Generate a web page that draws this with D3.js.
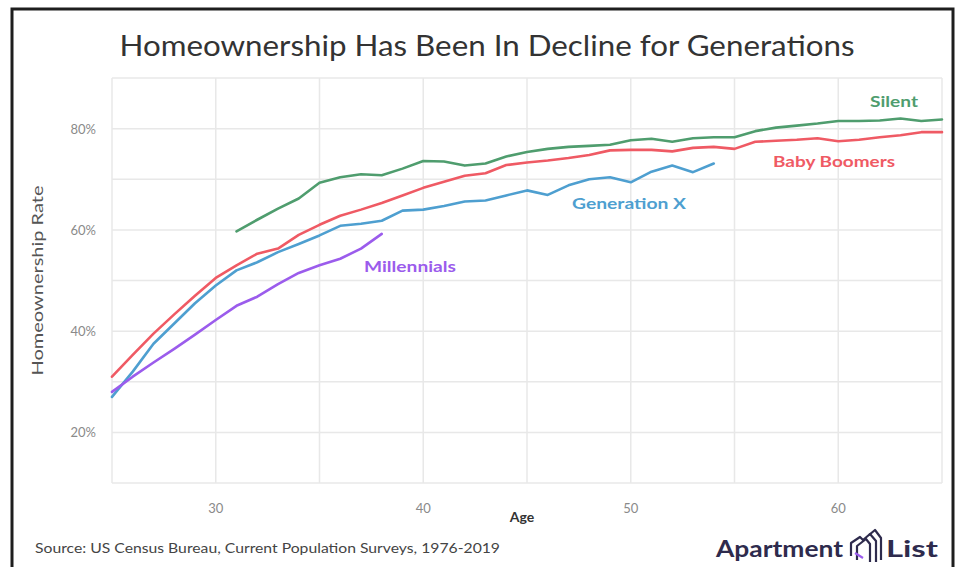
<!doctype html>
<html lang="en">
	<head>
		<meta charset="UTF-8">
		<title>Homeownership Has Been In Decline for Generations</title>
		<style>
		body { margin: 0; background: #fff; }
		svg { display: block; font-family: Lato, "Open Sans", sans-serif; }
		.grid line { stroke: #e8e8e8; stroke-width: 1.5px; }
		.tick-label { fill: #8a8a8a; font-size: 13px; }
		.series { fill: none; stroke-width: 2.6px; stroke-linejoin: round; stroke-linecap: round; }
		.series-label { font-size: 15px; font-weight: 700; }
		</style>
	</head>
	<body>
		<script src="https://cdn.jsdelivr.net/npm/d3@7"></script>
		<script>
			// values, % by age
			var silentStart = 31,
				silentValues = [59.7, 62.0, 64.2, 66.2, 69.3, 70.4, 71.0, 70.8, 72.1, 73.6,
					73.5, 72.7, 73.1, 74.5, 75.4, 76.0, 76.4, 76.6, 76.8, 77.7,
					78.0, 77.4, 78.1, 78.3, 78.3, 79.5, 80.2, 80.6, 81.0, 81.5,
					81.5, 81.6, 82.0, 81.5, 81.8];

			var boomerStart = 25,
				boomerValues = [31.0, 35.3, 39.5, 43.3, 47.0, 50.5, 53.0, 55.3, 56.3, 59.0,
					61.0, 62.8, 64.0, 65.3, 66.8, 68.3, 69.5, 70.7, 71.2, 72.8,
					73.3, 73.7, 74.2, 74.8, 75.7, 75.8, 75.8, 75.5, 76.2, 76.4,
					76.0, 77.4, 77.6, 77.8, 78.1, 77.5, 77.8, 78.3, 78.7, 79.3, 79.3];

			var genXStart = 25,
				genXValues = [27.0, 32.0, 37.5, 41.5, 45.5, 49.0, 52.0, 53.6, 55.6, 57.2,
					58.9, 60.8, 61.2, 61.8, 63.8, 64.0, 64.7, 65.6, 65.8, 66.8,
					67.8, 66.9, 68.8, 70.0, 70.4, 69.4, 71.5, 72.7, 71.4, 73.1];

			var millennialStart = 25,
				millennialValues = [28.0, 31.0, 33.8, 36.5, 39.3, 42.2, 45.0, 46.8, 49.3, 51.5,
					53.0, 54.3, 56.3, 59.2];

			var xTicks = [30, 40, 50, 60],
				yTicks = [20, 40, 60, 80],
				xGrid = d3.range(25, 66, 5),
				yGrid = d3.range(10, 91, 10);

			var series = [
				{ name: "Silent", start: silentStart, values: silentValues, color: "#4f9d6e", lx: 894, ly: 107, w: 48 },
				{ name: "Baby Boomers", start: boomerStart, values: boomerValues, color: "#ef5a64", lx: 834, ly: 167, w: 122 },
				{ name: "Generation X", start: genXStart, values: genXValues, color: "#4e9fd0", lx: 629, ly: 209, w: 114 },
				{ name: "Millennials", start: millennialStart, values: millennialValues, color: "#9b5cec", lx: 410, ly: 272, w: 92 }
			];

			var width = 956,
				height = 567,
				plotLeft = 112,
				plotRight = 942,
				plotTop = 78,
				plotBottom = 483;

			var svg = d3.select("body").append("svg")
				.attr("width", width)
				.attr("height", height);

			// frame
			svg.append("rect")
				.attr("x", 12).attr("y", 9)
				.attr("width", 941).attr("height", 570)
				.attr("fill", "none")
				.attr("stroke", "#1e1e1e")
				.attr("stroke-width", 3);

			var x = d3.scaleLinear().domain([25, 65]).range([plotLeft, plotRight]);
			var y = d3.scaleLinear().domain([10, 90]).range([plotBottom, plotTop]);

			var grid = svg.append("g").attr("class", "grid");
			grid.selectAll(".v").data(xGrid).enter().append("line")
				.attr("class", "v")
				.attr("x1", x).attr("x2", x)
				.attr("y1", plotTop).attr("y2", plotBottom);
			grid.selectAll(".h").data(yGrid).enter().append("line")
				.attr("class", "h")
				.attr("x1", plotLeft).attr("x2", plotRight)
				.attr("y1", y).attr("y2", y);

			svg.selectAll(".xt").data(xTicks).enter().append("text")
				.attr("class", "tick-label xt")
				.attr("x", x)
				.attr("y", 513)
				.attr("text-anchor", "middle")
				.text(function(d){ return d; });

			svg.selectAll(".yt").data(yTicks).enter().append("text")
				.attr("class", "tick-label yt")
				.attr("x", 96)
				.attr("y", function(d){ return y(d) + 5; })
				.attr("text-anchor", "end")
				.text(function(d){ return d + "%"; });

			var line = d3.line()
				.x(function(d){ return x(d.age); })
				.y(function(d){ return y(d.value); });

			series.forEach(function(s){
				var pts = s.values.map(function(v, i){ return { age: s.start + i, value: v }; });
				svg.append("path")
					.datum(pts)
					.attr("class", "series")
					.attr("stroke", s.color)
					.attr("d", line);
				svg.append("text")
					.attr("class", "series-label")
					.attr("x", s.lx).attr("y", s.ly)
					.attr("text-anchor", "middle")
					.attr("fill", s.color)
					.attr("textLength", s.w)
					.attr("lengthAdjust", "spacingAndGlyphs")
					.text(s.name);
			});

			// titles
			svg.append("text")
				.attr("x", 487).attr("y", 56)
				.attr("text-anchor", "middle")
				.attr("fill", "#333")
				.style("font-size", "28px")
				.attr("textLength", 735)
				.attr("lengthAdjust", "spacingAndGlyphs")
				.text("Homeownership Has Been In Decline for Generations");

			svg.append("text")
				.attr("transform", "translate(43," + ((plotTop + plotBottom) / 2) + ") rotate(-90)")
				.attr("text-anchor", "middle")
				.attr("fill", "#555")
				.style("font-size", "15px")
				.attr("textLength", 190)
				.attr("lengthAdjust", "spacingAndGlyphs")
				.text("Homeownership Rate");

			svg.append("text")
				.attr("x", 522).attr("y", 522)
				.attr("text-anchor", "middle")
				.attr("fill", "#333")
				.style("font-size", "14px")
				.style("font-weight", 700)
				.text("Age");

			svg.append("text")
				.attr("x", 35).attr("y", 553)
				.attr("fill", "#444")
				.style("font-size", "13px")
				.attr("textLength", 465)
				.attr("lengthAdjust", "spacingAndGlyphs")
				.text("Source: US Census Bureau, Current Population Surveys, 1976-2019");

			// logo
			var logo = svg.append("g").attr("fill", "#2e2b4d");
			logo.append("text")
				.attr("x", 716).attr("y", 557)
				.style("font-size", "22px")
				.style("font-weight", 700)
				.attr("textLength", 127)
				.attr("lengthAdjust", "spacingAndGlyphs")
				.text("Apartment");
			logo.append("text")
				.attr("x", 938).attr("y", 557)
				.attr("text-anchor", "end")
				.style("font-size", "22px")
				.style("font-weight", 700)
				.attr("textLength", 52)
				.attr("lengthAdjust", "spacingAndGlyphs")
				.text("List");
			var icon = logo.append("g")
				.attr("fill", "none")
				.attr("stroke", "#2e2b4d")
				.attr("stroke-width", 2.2)
				.attr("stroke-linejoin", "round");
			icon.append("path").attr("d", "M851,556 L851,543 L860,537 L864,541");
			icon.append("path").attr("d", "M857,560 L857,546 L866,539 L870,544 L870,562");
			icon.append("path").attr("d", "M863,540 L870,534 L876,541 L876,562");
			icon.append("path").attr("d", "M869,535 L875,530 L881,538 L881,560");
			icon.append("path").attr("d", "M855,553 L863,558").attr("stroke", "#9b5cec");
		</script>
	</body>
</html>
